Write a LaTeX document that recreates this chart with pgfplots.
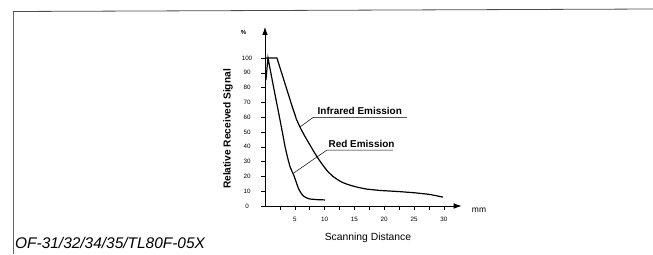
\documentclass[border=0pt]{standalone}
\usepackage{fontspec}
\setmainfont{Liberation Sans}
\usepackage{pgfplots}
\pgfplotsset{compat=1.18}
\usetikzlibrary{arrows.meta}
\begin{document}
\begin{tikzpicture}[x=1bp,y=1bp]
\path[use as bounding box] (0,0) rectangle (653,254);
\draw[black!60, line width=0.8bp] (13,0) -- (13,243);
\draw[black!70, line width=0.8bp] (13,242.5) -- (653,245);
\node[anchor=base west, font=\fontsize{15.5}{17}\selectfont\itshape, inner sep=0pt] at (15,6) {OF-31/32/34/35/TL80F-05X};
\node[anchor=base, font=\fontsize{10.4}{12}\selectfont, inner sep=0pt] at (368,13.5) {Scanning Distance};
\node[rotate=90, font=\fontsize{10.2}{12}\selectfont\bfseries, inner sep=0pt] at (228,125) {Relative Received Signal};
\node[font=\fontsize{6}{7}\selectfont\bfseries, inner sep=0pt] at (243.5,221.5) {\%};
\node[font=\fontsize{8.5}{9}\selectfont, inner sep=0pt] at (479,44) {mm};
\begin{axis}[
  at={(265bp,48bp)}, anchor=south west,
  scale only axis, width=196.7bp, height=179.1bp,
  xmin=0, xmax=33, ymin=0, ymax=121,
  axis x line=bottom, axis y line=left,
  axis line style={line width=0.8bp, -{Latex[length=8bp,width=5.5bp]}},
  tick align=outside,
  major tick length=4bp, minor tick length=4bp,
  tick style={black, line width=0.5bp},
  xtick={5,10,...,30}, minor xtick={2.5,7.5,...,27.5},
  ytick={0,10,...,100},
  /pgf/number format/assume math mode=true,
  ticklabel style={font=\fontsize{6.3}{7}\selectfont},
  xticklabel style={yshift=-3.5bp},
  yticklabel style={anchor=center, xshift=-14bp},
  clip=false,
]
\addplot[black, line width=1.2bp] coordinates {
 (0.2,100) (2.0,100) (4.5,68) (5.3,58.3) (5.9,53) (6.7,47) (7.5,41.5) (8.3,36)
 (9.1,31) (9.9,26.5) (10.6,23) (11.4,20) (12.1,18) (12.8,16.3) (13.5,15.1) (14.3,14)
 (15.7,12.5) (17.1,11.4) (19.3,10.5) (22.65,9.7) (25.2,8.9) (27.68,7.8) (29.87,6.0)
};
\addplot[black, line width=1.2bp] coordinates {
 (0.15,85) (0.5,100) (1.5,79) (2.52,58.1) (3.0,48) (3.36,40.1) (3.8,32.5) (4.19,26.6) (4.92,19.8)
 (5.59,12) (6.0,9.0) (6.43,6.8) (7.0,5.4) (7.55,4.7) (8.8,4.3) (10.07,4.1)
};
\draw[black, line width=0.5bp] (axis cs:5.87,53.4) -- (axis cs:8.1,59.9) -- (axis cs:23.8,59.9);
\draw[black, line width=0.5bp] (axis cs:4.75,22.1) -- (axis cs:10.4,37.8) -- (axis cs:21.5,37.8);
\node[anchor=base, font=\fontsize{10}{12}\selectfont\bfseries, inner sep=0pt] at (axis cs:15.9,61.5) {Infrared Emission};
\node[anchor=base, font=\fontsize{10}{12}\selectfont\bfseries, inner sep=0pt] at (axis cs:16.2,39.7) {Red Emission};
\end{axis}
\end{tikzpicture}
\end{document}
